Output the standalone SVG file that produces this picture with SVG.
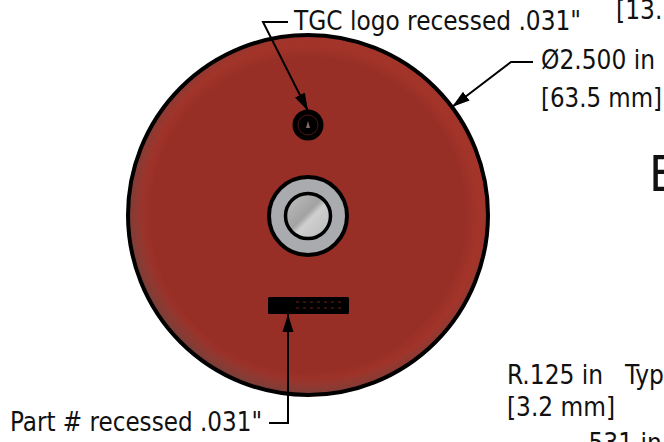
<svg xmlns="http://www.w3.org/2000/svg" width="664" height="442" viewBox="0 0 664 442">
<style>
text{font-family:"DejaVu Sans Condensed","DejaVu Sans",sans-serif;font-stretch:condensed;font-size:26px;fill:#111}
.l{fill:none;stroke:#000;stroke-width:2}
</style>
<defs>
<radialGradient id="disc" cx="308" cy="215" r="179" gradientUnits="userSpaceOnUse">
<stop offset="0" stop-color="#982f27"/><stop offset=".88" stop-color="#982f27"/><stop offset=".95" stop-color="#a3342a"/><stop offset="1" stop-color="#a3342a"/>
</radialGradient>
<radialGradient id="shade" cx="314" cy="209" r="188" gradientUnits="userSpaceOnUse">
<stop offset=".9" stop-color="#4a4a4a" stop-opacity="0"/><stop offset="1" stop-color="#4a4a4a" stop-opacity=".5"/>
</radialGradient>
<linearGradient id="metal" x1="0" y1="0" x2="1" y2="1">
<stop offset="0" stop-color="#c0c0c0"/><stop offset=".46" stop-color="#a2a2a2"/><stop offset=".56" stop-color="#cfcfcf"/><stop offset="1" stop-color="#b8b8b8"/>
</linearGradient>
<marker id="a" markerUnits="userSpaceOnUse" markerWidth="20" markerHeight="12" refX="18" refY="6" orient="auto"><path d="M0 .5L18 6L0 11.500Z" fill="#000"/></marker>
</defs>
<g id="disc-node">
<circle cx="308" cy="215" r="180" fill="url(#disc)"/>
<circle cx="308" cy="215" r="180" fill="url(#shade)" stroke="#000" stroke-width="4"/>
</g>
<g id="logo">
<circle cx="308" cy="125" r="15.500" fill="#000"/>
<circle cx="308" cy="125" r="10" fill="none" stroke="#4a1512" stroke-width="1"/>
<path d="M306 128L308 121L310 128Z" fill="#8a6a66"/>
</g>
<g id="hub">
<circle cx="308" cy="216" r="39" fill="#a9abae" stroke="#000" stroke-width="4"/>
<circle cx="308" cy="216" r="22.500" fill="url(#metal)" stroke="#000" stroke-width="3.500"/>
</g>
<g id="part-number">
<rect x="268" y="297" width="81" height="17" rx="1.500" fill="#000"/>
<path d="M296 302h48M296 308h48" stroke="#4a1512" stroke-width="1.500" stroke-dasharray="3 4"/>
</g>
<g id="connectors">
<path class="l" d="M288 22H263L308 111" marker-end="url(#a)"/>
<path class="l" d="M269 423H288V314" marker-end="url(#a)"/>
<path class="l" d="M533 62H511L452 107" marker-end="url(#a)"/>
</g>
<g id="labels">
<text x="294" y="30" textLength="287" lengthAdjust="spacingAndGlyphs">TGC logo recessed .031"</text>
<text x="616" y="19">[13.</text>
<text x="541" y="69" textLength="114" lengthAdjust="spacingAndGlyphs">Ø2.500 in</text>
<text x="541" y="107" textLength="121" lengthAdjust="spacingAndGlyphs">[63.5 mm]</text>
<text x="649" y="191" style="font-size:50px">E</text>
<text x="507" y="384">R.125 in<tspan x="625">Typ</tspan></text>
<text x="507" y="416" textLength="108" lengthAdjust="spacingAndGlyphs">[3.2 mm]</text>
<text x="581" y="452">.531 in</text>
<text x="10" y="431" textLength="252" lengthAdjust="spacingAndGlyphs">Part # recessed .031"</text>
</g>
</svg>
